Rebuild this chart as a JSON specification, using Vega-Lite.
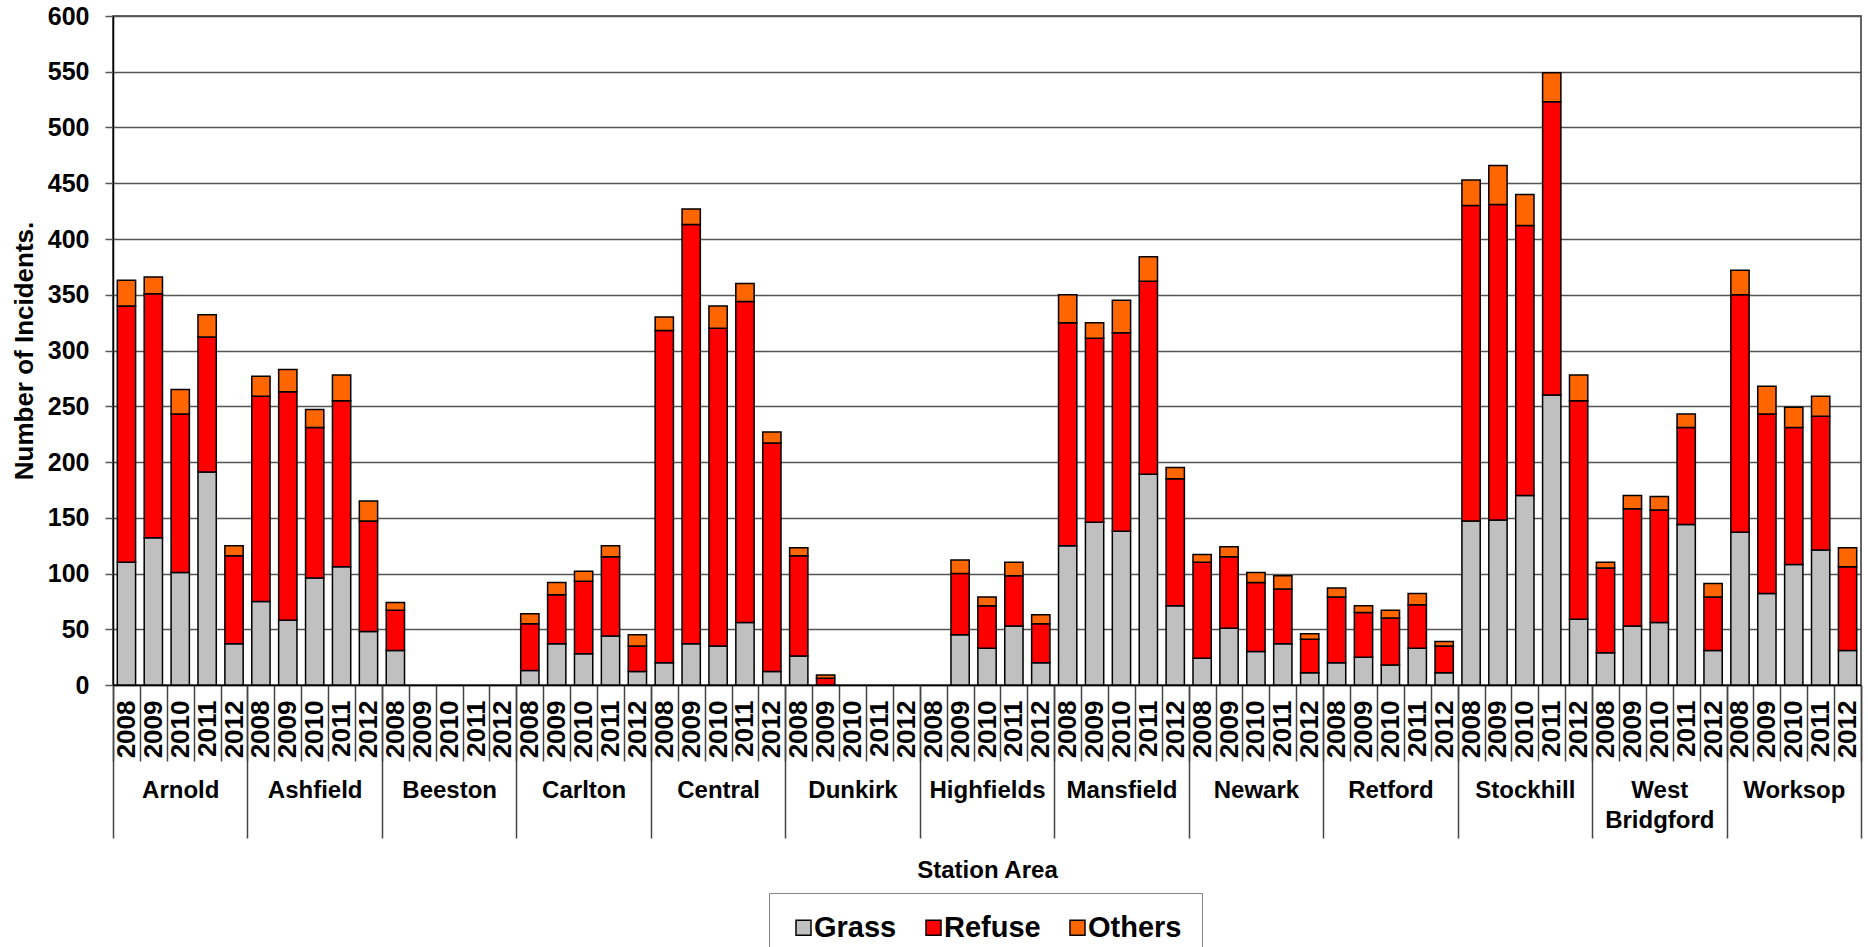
{
  "$schema": "https://vega.github.io/schema/vega-lite/v6.json",
  "autosize": {"type": "none"},
  "width": 1748,
  "height": 669,
  "padding": {"left": 113, "top": 16, "right": 7, "bottom": 262},
  "background": "white",
  "config": {
    "font": "Liberation Sans",
    "view": {"stroke": "#333333", "strokeWidth": 1.5},
    "axis": {"labelColor": "#000000", "titleColor": "#000000"}
  },
  "data": {
    "values": [
      {"S": "Arnold", "K": "Arnold|2008", "Grass": 110, "Refuse": 230, "Others": 23},
      {"S": "Arnold", "K": "Arnold|2009", "Grass": 132, "Refuse": 219, "Others": 15},
      {"S": "Arnold", "K": "Arnold|2010", "Grass": 101, "Refuse": 142, "Others": 22},
      {"S": "Arnold", "K": "Arnold|2011", "Grass": 191, "Refuse": 121, "Others": 20},
      {"S": "Arnold", "K": "Arnold|2012", "Grass": 37, "Refuse": 79, "Others": 9},
      {"S": "Ashfield", "K": "Ashfield|2008", "Grass": 75, "Refuse": 184, "Others": 18},
      {"S": "Ashfield", "K": "Ashfield|2009", "Grass": 58, "Refuse": 205, "Others": 20},
      {"S": "Ashfield", "K": "Ashfield|2010", "Grass": 96, "Refuse": 135, "Others": 16},
      {"S": "Ashfield", "K": "Ashfield|2011", "Grass": 106, "Refuse": 149, "Others": 23},
      {"S": "Ashfield", "K": "Ashfield|2012", "Grass": 48, "Refuse": 99, "Others": 18},
      {"S": "Beeston", "K": "Beeston|2008", "Grass": 31, "Refuse": 36, "Others": 7},
      {"S": "Beeston", "K": "Beeston|2009", "Grass": 0, "Refuse": 0, "Others": 0},
      {"S": "Beeston", "K": "Beeston|2010", "Grass": 0, "Refuse": 0, "Others": 0},
      {"S": "Beeston", "K": "Beeston|2011", "Grass": 0, "Refuse": 0, "Others": 0},
      {"S": "Beeston", "K": "Beeston|2012", "Grass": 0, "Refuse": 0, "Others": 0},
      {"S": "Carlton", "K": "Carlton|2008", "Grass": 13, "Refuse": 42, "Others": 9},
      {"S": "Carlton", "K": "Carlton|2009", "Grass": 37, "Refuse": 44, "Others": 11},
      {"S": "Carlton", "K": "Carlton|2010", "Grass": 28, "Refuse": 65, "Others": 9},
      {"S": "Carlton", "K": "Carlton|2011", "Grass": 44, "Refuse": 71, "Others": 10},
      {"S": "Carlton", "K": "Carlton|2012", "Grass": 12, "Refuse": 23, "Others": 10},
      {"S": "Central", "K": "Central|2008", "Grass": 20, "Refuse": 298, "Others": 12},
      {"S": "Central", "K": "Central|2009", "Grass": 37, "Refuse": 376, "Others": 14},
      {"S": "Central", "K": "Central|2010", "Grass": 35, "Refuse": 285, "Others": 20},
      {"S": "Central", "K": "Central|2011", "Grass": 56, "Refuse": 288, "Others": 16},
      {"S": "Central", "K": "Central|2012", "Grass": 12, "Refuse": 205, "Others": 10},
      {"S": "Dunkirk", "K": "Dunkirk|2008", "Grass": 26, "Refuse": 90, "Others": 7},
      {"S": "Dunkirk", "K": "Dunkirk|2009", "Grass": 0, "Refuse": 6, "Others": 3},
      {"S": "Dunkirk", "K": "Dunkirk|2010", "Grass": 0, "Refuse": 0, "Others": 0},
      {"S": "Dunkirk", "K": "Dunkirk|2011", "Grass": 0, "Refuse": 0, "Others": 0},
      {"S": "Dunkirk", "K": "Dunkirk|2012", "Grass": 0, "Refuse": 0, "Others": 0},
      {"S": "Highfields", "K": "Highfields|2008", "Grass": 0, "Refuse": 0, "Others": 0},
      {"S": "Highfields", "K": "Highfields|2009", "Grass": 45, "Refuse": 55, "Others": 12},
      {"S": "Highfields", "K": "Highfields|2010", "Grass": 33, "Refuse": 38, "Others": 8},
      {"S": "Highfields", "K": "Highfields|2011", "Grass": 53, "Refuse": 45, "Others": 12},
      {"S": "Highfields", "K": "Highfields|2012", "Grass": 20, "Refuse": 35, "Others": 8},
      {"S": "Mansfield", "K": "Mansfield|2008", "Grass": 125, "Refuse": 200, "Others": 25},
      {"S": "Mansfield", "K": "Mansfield|2009", "Grass": 146, "Refuse": 165, "Others": 14},
      {"S": "Mansfield", "K": "Mansfield|2010", "Grass": 138, "Refuse": 178, "Others": 29},
      {"S": "Mansfield", "K": "Mansfield|2011", "Grass": 189, "Refuse": 173, "Others": 22},
      {"S": "Mansfield", "K": "Mansfield|2012", "Grass": 71, "Refuse": 114, "Others": 10},
      {"S": "Newark", "K": "Newark|2008", "Grass": 24, "Refuse": 86, "Others": 7},
      {"S": "Newark", "K": "Newark|2009", "Grass": 51, "Refuse": 64, "Others": 9},
      {"S": "Newark", "K": "Newark|2010", "Grass": 30, "Refuse": 62, "Others": 9},
      {"S": "Newark", "K": "Newark|2011", "Grass": 37, "Refuse": 49, "Others": 12},
      {"S": "Newark", "K": "Newark|2012", "Grass": 11, "Refuse": 30, "Others": 5},
      {"S": "Retford", "K": "Retford|2008", "Grass": 20, "Refuse": 59, "Others": 8},
      {"S": "Retford", "K": "Retford|2009", "Grass": 25, "Refuse": 40, "Others": 6},
      {"S": "Retford", "K": "Retford|2010", "Grass": 18, "Refuse": 42, "Others": 7},
      {"S": "Retford", "K": "Retford|2011", "Grass": 33, "Refuse": 39, "Others": 10},
      {"S": "Retford", "K": "Retford|2012", "Grass": 11, "Refuse": 24, "Others": 4},
      {"S": "Stockhill", "K": "Stockhill|2008", "Grass": 147, "Refuse": 283, "Others": 23},
      {"S": "Stockhill", "K": "Stockhill|2009", "Grass": 148, "Refuse": 283, "Others": 35},
      {"S": "Stockhill", "K": "Stockhill|2010", "Grass": 170, "Refuse": 242, "Others": 28},
      {"S": "Stockhill", "K": "Stockhill|2011", "Grass": 260, "Refuse": 263, "Others": 26},
      {"S": "Stockhill", "K": "Stockhill|2012", "Grass": 59, "Refuse": 196, "Others": 23},
      {"S": "West Bridgford", "K": "West Bridgford|2008", "Grass": 29, "Refuse": 76, "Others": 5},
      {"S": "West Bridgford", "K": "West Bridgford|2009", "Grass": 53, "Refuse": 105, "Others": 12},
      {"S": "West Bridgford", "K": "West Bridgford|2010", "Grass": 56, "Refuse": 101, "Others": 12},
      {"S": "West Bridgford", "K": "West Bridgford|2011", "Grass": 144, "Refuse": 87, "Others": 12},
      {"S": "West Bridgford", "K": "West Bridgford|2012", "Grass": 31, "Refuse": 48, "Others": 12},
      {"S": "Worksop", "K": "Worksop|2008", "Grass": 137, "Refuse": 213, "Others": 22},
      {"S": "Worksop", "K": "Worksop|2009", "Grass": 82, "Refuse": 161, "Others": 25},
      {"S": "Worksop", "K": "Worksop|2010", "Grass": 108, "Refuse": 123, "Others": 18},
      {"S": "Worksop", "K": "Worksop|2011", "Grass": 121, "Refuse": 120, "Others": 18},
      {"S": "Worksop", "K": "Worksop|2012", "Grass": 31, "Refuse": 75, "Others": 17}
    ]
  },
  "layer": [
    {
      "transform": [{"fold": ["Grass", "Refuse", "Others"], "as": ["Type", "Count"]}],
      "mark": {"type": "bar", "width": {"band": 0.68}, "stroke": "#000000", "strokeWidth": 1.5},
      "encoding": {
        "x": {
          "field": "K", "type": "nominal", "sort": null,
          "scale": {"type": "band", "paddingInner": 0, "paddingOuter": 0},
          "axis": {
            "orient": "bottom", "title": null,
            "labelExpr": "split(datum.value, '|')[1]",
            "labelAngle": -90, "labelFontSize": 26, "labelFontWeight": "bold",
            "labelPadding": -61, "labelOverlap": false, "labelBound": false, "labelFlush": false,
            "tickBand": "extent", "tickSize": 76, "tickColor": "#444444", "tickWidth": 1.5,
            "domainColor": "#000000", "domainWidth": 1.5, "grid": false
          }
        },
        "y": {
          "field": "Count", "type": "quantitative", "stack": "zero",
          "scale": {"domain": [0, 600]},
          "axis": {
            "title": "Number of Incidents.", "titleFontSize": 26, "titleFontWeight": "bold", "titlePadding": 10,
            "values": [0, 50, 100, 150, 200, 250, 300, 350, 400, 450, 500, 550, 600],
            "labelFontSize": 25, "labelFontWeight": "bold", "labelPadding": 16,
            "tickSize": 8, "tickColor": "#555555", "tickWidth": 1.5,
            "gridColor": "#555555", "gridWidth": 1.5, "gridOpacity": 1,
            "domainColor": "#000000", "domainWidth": 1.5
          }
        },
        "color": {
          "field": "Type", "type": "nominal",
          "scale": {"domain": ["Grass", "Refuse", "Others"], "range": ["#C0C0C0", "#FF0000", "#FF6600"]},
          "legend": {
            "orient": "none", "legendX": 656, "legendY": 877, "direction": "horizontal",
            "title": null, "symbolType": "square", "symbolSize": 225,
            "symbolStrokeColor": "#000000", "symbolStrokeWidth": 1.5, "symbolOpacity": 1,
            "labelFontSize": 29, "labelFontWeight": "bold", "labelColor": "#000000", "labelOffset": -4,
            "columnPadding": 22, "padding": 20, "strokeColor": "#888888", "fillColor": "#ffffff"
          }
        },
        "order": {"field": "K", "type": "ordinal"},
        "strokeOpacity": {"condition": {"test": "datum.Count == 0", "value": 0}, "value": 1}
      }
    },
    {
      "mark": {"type": "rule", "strokeOpacity": 0},
      "encoding": {
        "x": {
          "field": "S", "type": "nominal", "sort": null,
          "scale": {"type": "band", "paddingInner": 0, "paddingOuter": 0},
          "axis": {
            "orient": "bottom", "title": "Station Area", "titleFontSize": 24, "titleFontWeight": "bold", "titlePadding": 20,
            "labelExpr": "datum.value == 'West Bridgford' ? ['West', 'Bridgford'] : datum.value",
            "labelAngle": 0, "labelFontSize": 24, "labelFontWeight": "bold", "labelLineHeight": 30,
            "labelPadding": -60, "labelOverlap": false, "labelBound": false, "labelFlush": false,
            "tickBand": "extent", "tickSize": 153, "tickColor": "#444444", "tickWidth": 1.5,
            "domain": false, "grid": false
          }
        }
      }
    }
  ],
  "resolve": {"scale": {"x": "independent"}, "axis": {"x": "independent"}}
}
